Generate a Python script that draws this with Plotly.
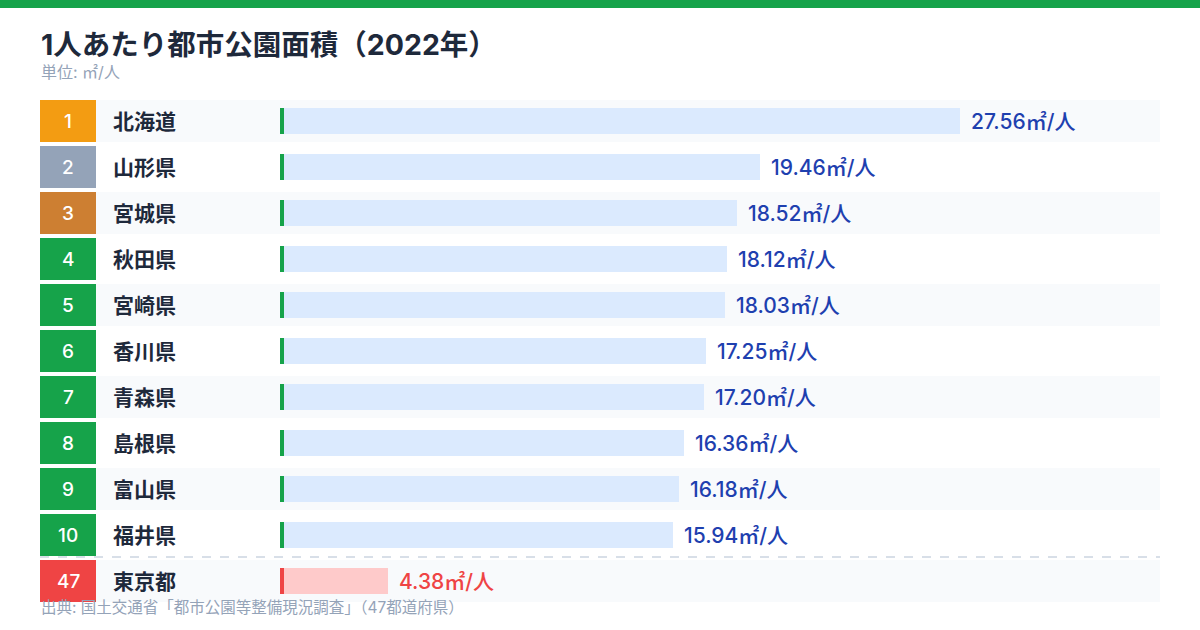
import plotly.graph_objects as go

# ---- data ----
ranks = [1, 2, 3, 4, 5, 6, 7, 8, 9, 10, 47]
prefectures = ["北海道", "山形県", "宮城県", "秋田県", "宮崎県", "香川県",
               "青森県", "島根県", "富山県", "福井県", "東京都"]
values = [27.56, 19.46, 18.52, 18.12, 18.03, 17.25, 17.20, 16.36, 16.18, 15.94, 4.38]
unit = "㎡/人"
title = "1人あたり都市公園面積（2022年）"
subtitle = "単位: ㎡/人"
source = "出典: 国土交通省「都市公園等整備現況調査」（47都道府県）"

# ---- layout constants (pixels) ----
W, H = 1200, 630
FONT = "Inter, Noto Sans CJK JP"
bar_x0 = 280          # pixel where value 0 sits
bar_max_px = 680      # pixel length of the max bar
scale = bar_max_px / max(values)
row_h = 42
row_pitch = 46
first_top = 100

tops = [first_top + i * row_pitch for i in range(len(ranks))]
centers = [t + row_h / 2 for t in tops]

def rank_color(r):
    if r == 1:
        return "#f39c12"
    if r == 2:
        return "#94a3b8"
    if r == 3:
        return "#cd7f32"
    if r <= 10:
        return "#16a34a"
    return "#ef4444"

bar_colors = ["#dbeafe" if r <= 10 else "#fecaca" for r in ranks]
accent_colors = ["#16a34a" if r <= 10 else "#ef4444" for r in ranks]
label_colors = ["#1e40af" if r <= 10 else "#ef4444" for r in ranks]

def px(x):
    return x / W

fig = go.Figure()

fig.add_trace(go.Bar(
    orientation="h",
    x=values,
    y=centers,
    width=26,
    marker=dict(color=bar_colors, line=dict(width=0)),
    hoverinfo="skip",
    showlegend=False,
))

shapes = []
annotations = []

# top band
shapes.append(dict(type="rect", xref="paper", yref="y", x0=0, x1=1, y0=0, y1=8,
                   fillcolor="#16a34a", line=dict(width=0), layer="below"))

for i, r in enumerate(ranks):
    t = tops[i]
    c = centers[i]
    if i % 2 == 0:
        shapes.append(dict(type="rect", xref="paper", yref="y", x0=px(40), x1=px(1160),
                           y0=t, y1=t + row_h, fillcolor="#f8fafc",
                           line=dict(width=0), layer="below"))
    shapes.append(dict(type="rect", xref="paper", yref="y", x0=px(40), x1=px(96),
                       y0=t, y1=t + row_h, fillcolor=rank_color(r),
                       line=dict(width=0), layer="above"))
    shapes.append(dict(type="rect", xref="paper", yref="y", x0=px(280), x1=px(284),
                       y0=c - 13, y1=c + 13, fillcolor=accent_colors[i],
                       line=dict(width=0), layer="above"))
    annotations.append(dict(xref="paper", yref="y", x=px(68), y=c, text=str(r),
                            showarrow=False, xanchor="center", yanchor="middle",
                            font=dict(family=FONT, size=19, color="white", weight=500)))
    annotations.append(dict(xref="paper", yref="y", x=px(111), y=c,
                            text="<b>" + prefectures[i] + "</b>",
                            showarrow=False, xanchor="left", yanchor="middle",
                            font=dict(family=FONT, size=21, color="#1e293b")))
    annotations.append(dict(xref="x", yref="y", x=values[i], y=c,
                            text=f"{values[i]:.2f}{unit}", xshift=9,
                            showarrow=False, xanchor="left", yanchor="middle",
                            font=dict(family=FONT, size=21, color=label_colors[i],
                                      weight=500)))

# dashed separator before the 47th row
sep_y = tops[-2] + row_h + 1
shapes.append(dict(type="line", xref="paper", yref="y", x0=px(40), x1=px(1160),
                   y0=sep_y, y1=sep_y, line=dict(color="#cbd5e1", width=1.5, dash="dash")))

annotations.append(dict(xref="paper", yref="y", x=px(39), y=44, text="<b>" + title + "</b>",
                        showarrow=False, xanchor="left", yanchor="middle",
                        font=dict(family=FONT, size=28.5, color="#1e293b")))
annotations.append(dict(xref="paper", yref="y", x=px(39), y=72, text=subtitle,
                        showarrow=False, xanchor="left", yanchor="middle",
                        font=dict(family=FONT, size=16, color="#94a3b8")))
annotations.append(dict(xref="paper", yref="y", x=px(39), y=607, text=source,
                        showarrow=False, xanchor="left", yanchor="middle",
                        font=dict(family=FONT, size=15.5, color="#94a3b8")))

fig.update_layout(
    width=W, height=H,
    margin=dict(l=0, r=0, t=0, b=0),
    paper_bgcolor="white", plot_bgcolor="rgba(0,0,0,0)",
    xaxis=dict(range=[-bar_x0 / scale, (W - bar_x0) / scale], visible=False,
               fixedrange=True),
    yaxis=dict(range=[H, 0], visible=False, fixedrange=True),
    shapes=shapes,
    annotations=annotations,
    bargap=0,
    font=dict(family=FONT),
)

fig.write_html("out.html", config={"displayModeBar": False},
               post_script="document.body.style.margin='0';document.body.style.overflow='hidden';")
